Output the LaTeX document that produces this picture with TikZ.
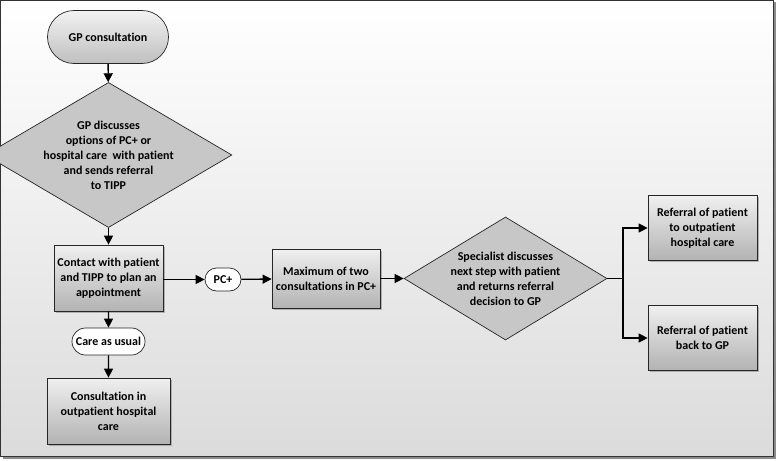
\documentclass[tikz,border=0pt]{standalone}
\usepackage{fontspec}
\setmainfont{Carlito}[Ligatures=NoCommon]
\usetikzlibrary{shapes.geometric,shapes.misc,arrows.meta,shadows}
\begin{document}
\begin{tikzpicture}[x=1pt,y=-1pt,
  font=\bfseries\fontsize{12}{15}\selectfont,
  every node/.style={align=center, inner sep=1pt},
  base/.style={draw=black!85, line width=0.7pt},
  procbox/.style={base, rectangle, top color=black!6, bottom color=black!30,
     drop shadow={shadow xshift=1.5pt, shadow yshift=-1.5pt, fill=black!45, opacity=0.6}},
  decision/.style={base, diamond, fill=black!22, aspect=1.7, inner sep=0pt},
  pill/.style={base, rounded rectangle, fill=white, minimum height=23, inner xsep=8pt},
  terminal/.style={base, rounded rectangle, top color=black!5, bottom color=black!25,
     minimum width=123, minimum height=53},
  flow/.style={-{Triangle[length=9pt,width=9pt]}, line width=1.3pt, black}]
\useasboundingbox (0,0) rectangle (778,460);
% frame
\fill[black!45] (2.5,2.5) rectangle (776,458.5);
\shade[top color=white, bottom color=black!14, draw=black!80, line width=1pt]
   (0.5,0.5) rectangle (773,456);
% nodes
\node[terminal] (gp) at (108,37) {GP consultation};
\node[decision, minimum width=203, minimum height=120] (d1) at (108.5,155)
  {GP discusses\\options of PC+ or\\hospital care\ \ with patient\\and sends referral\\to TIPP};
\node[procbox, minimum width=109, minimum height=66] (contact) at (108.5,278)
  {Contact with patient\\and TIPP to plan an\\appointment};
\node[pill, minimum width=52] (pc) at (223,279.5) {PC+};
\node[procbox, minimum width=108, minimum height=59] (max) at (326,278.5)
  {Maximum of two\\consultations in PC+};
\node[decision, minimum width=203, minimum height=123] (d2) at (505.5,278.5)
  {Specialist discusses\\next step with patient\\and returns referral\\decision to GP};
\node[procbox, minimum width=109, minimum height=65] (r1) at (702.5,228)
  {Referral of patient\\to outpatient\\hospital care};
\node[procbox, minimum width=109, minimum height=65] (r2) at (702.5,338)
  {Referral of patient\\back to GP};
\node[pill, minimum width=89, minimum height=27] (usual) at (108.5,341.5) {Care as usual};
\node[procbox, minimum width=123, minimum height=66] (cons) at (108.5,411)
  {Consultation in\\outpatient hospital\\care};
% connectors
\draw[flow] (gp) -- (d1);
\draw[flow] (d1) -- (contact);
\draw[flow] (contact.east |- pc) -- (pc);
\draw[flow] (pc) -- (max);
\draw[flow] (max.east |- d2) -- (d2);
\coordinate (split) at (623,278.5);
\draw[line width=1.3pt] (d2.east) -- (split);
\draw[flow] (split) |- (r1.west);
\draw[flow] (split) |- (r2.west);
\draw[flow] (contact) -- (usual);
\draw[flow] (usual) -- (cons);
\end{tikzpicture}
\end{document}
